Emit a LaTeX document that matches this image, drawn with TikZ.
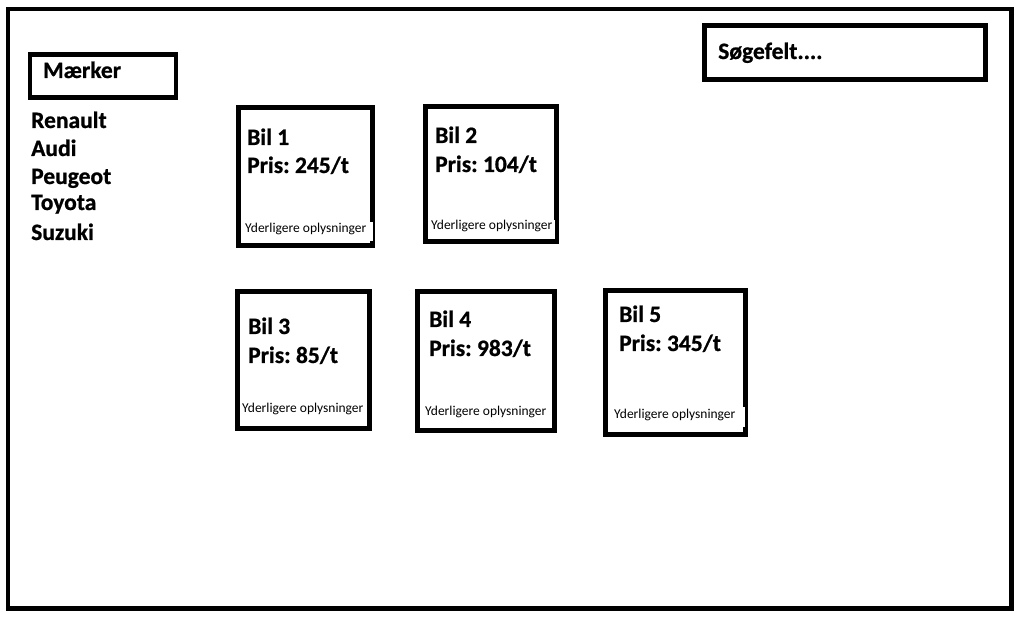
\documentclass[tikz,border=0pt]{standalone}
\usepackage{fontspec}
\setmainfont{Carlito}[BoldFeatures={FakeBold=0.8}]
\frenchspacing
\begin{document}
\begin{tikzpicture}[x=1pt,y=-1pt,
  frame/.style={draw=black,line width=4.5pt,fill=white},
  card/.style={draw=black,line width=5pt,fill=white},
  big/.style={anchor=base west,inner sep=0pt,font=\fontsize{23.5}{28}\selectfont\bfseries},
  small/.style={anchor=base west,inner sep=0pt,font=\fontsize{13.5}{16}\selectfont},
  patch/.style={fill=white,draw=none}]
\useasboundingbox (0,0) rectangle (1020,617);
\draw[frame] (8,9) rectangle (1011.5,608.5);
% Maerker box
\draw[frame] (30,54.5) rectangle (176,97.5);
\node[big] (mk) at (43,78) {Mærker};
\node[big] (re) at (31,128) {Renault};
\node[big] (au) at (31,156) {Audi};
\node[big] (pe) at (31,184) {Peugeot};
\node[big] (to) at (31,210) {Toyota};
\node[big] (su) at (31,240) {Suzuki};
% search
\draw[frame] (704.5,25.5) rectangle (985.5,79.5);
\node[big] (sf) at (718,59) {Søgefelt....};
% cards
\draw[card] (238.5,107.5) rectangle (372.5,245.5);
\fill[patch] (241,222) rectangle (372.5,241);
\node[big] (b1) at (247,145) {Bil 1};
\node[big] (p1) at (247,173) {Pris: 245/t};
\node[small] (y1) at (245,233) {Yderligere oplysninger};

\draw[card] (425.5,107) rectangle (556,242);
\fill[patch] (428,220) rectangle (554.5,239);
\node[big] (b2) at (435,143) {Bil 2};
\node[big] (p2) at (435,172) {Pris: 104/t};
\node[small] (y2) at (431,230) {Yderligere oplysninger};

\draw[card] (237.5,291.5) rectangle (369.5,428.5);
\node[big] (b3) at (248,334) {Bil 3};
\node[big] (p3) at (248,363) {Pris: 85/t};
\node[small] (y3) at (242,413) {Yderligere oplysninger};

\draw[card] (417.5,291.5) rectangle (554.5,430.5);
\node[big] (b4) at (429,327) {Bil 4};
\node[big] (p4) at (429,356) {Pris: 983/t};
\node[small] (y4) at (425,415) {Yderligere oplysninger};

\draw[card] (605.5,290.5) rectangle (745.5,434.5);
\fill[patch] (608,407) rectangle (745,427);
\node[big] (b5) at (619,322) {Bil 5};
\node[big] (p5) at (619,351) {Pris: 345/t};
\node[small] (y5) at (614,418) {Yderligere oplysninger};
\end{tikzpicture}
\end{document}
